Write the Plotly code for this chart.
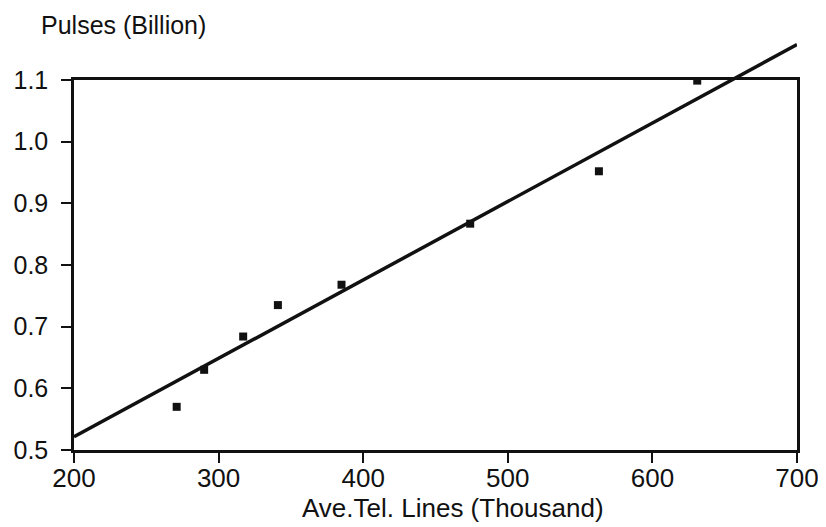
import plotly.graph_objects as go

# Data
tel_lines = [271, 290, 317, 341, 385, 474, 563, 631]          # thousand
pulses = [0.570, 0.630, 0.684, 0.735, 0.768, 0.867, 0.952, 1.099]  # billion

# Fitted regression line
fit_intercept = 0.267
fit_slope = 0.001272
fit_x = [200, 700]
fit_y = [fit_intercept + fit_slope * v for v in fit_x]

x_ticks = [200, 300, 400, 500, 600, 700]
y_ticks = [0.5, 0.6, 0.7, 0.8, 0.9, 1.0, 1.1]
y_tick_labels = ["0.5", "0.6", "0.7", "0.8", "0.9", "1.0", "1.1"]

FONT = "Liberation Sans, Arial, sans-serif"
INK = "#111111"

OFF = 8  # page body margin offset
W, H = 826, 527
ML, MR, MT, MB = 74 - OFF, 29 + OFF, 40 - OFF, 77 + OFF
plot_w = W - ML - MR
plot_h = H - MT - MB            # 410
main_h = 450 - 80               # 370 px between 0.5 and 1.1
main_top = main_h / plot_h
y2_top = 0.5 + 0.6 * plot_h / main_h


def px_x(px):
    return (px - OFF - ML) / plot_w


def px_y(py):
    return (H - MB - (py - OFF)) / plot_h


fig = go.Figure()

fig.add_trace(go.Scatter(
    x=fit_x, y=fit_y, mode="lines", xaxis="x", yaxis="y2",
    line=dict(color=INK, width=3.5), hoverinfo="skip", showlegend=False))

fig.add_trace(go.Scatter(
    x=tel_lines, y=pulses, mode="markers", xaxis="x", yaxis="y",
    marker=dict(symbol="square", size=8, color=INK), showlegend=False))

fig.update_layout(
    template="none",
    width=W, height=H,
    margin=dict(l=ML, r=MR, t=MT, b=MB),
    paper_bgcolor="white", plot_bgcolor="rgba(0,0,0,0)",
    font=dict(family=FONT, color=INK),
    xaxis=dict(range=[200, 700], tickvals=x_ticks, showgrid=False, zeroline=False,
               showline=True, linecolor=INK, linewidth=2.5, mirror=True,
               ticks="outside", ticklen=10, tickwidth=2, tickcolor=INK,
               automargin=False, ticklabelstandoff=-7,
               tickfont=dict(size=26, family=FONT, color=INK), anchor="y"),
    yaxis=dict(range=[0.5, 1.1], domain=[0, main_top], tickvals=y_ticks,
               ticktext=y_tick_labels, showgrid=False, zeroline=False,
               showline=True, linecolor=INK, linewidth=2.5, mirror=True,
               ticks="outside", ticklen=10, tickwidth=2, tickcolor=INK,
               automargin=False, ticklabelstandoff=8,
               tickfont=dict(size=25, family=FONT, color=INK)),
    yaxis2=dict(range=[0.5, y2_top], domain=[0, 1], visible=False, anchor="x",
                automargin=False),
    annotations=[
        dict(text="Pulses (Billion)", xref="paper", yref="paper",
             x=px_x(39), y=px_y(9),
             xanchor="left", yanchor="top", showarrow=False,
             font=dict(size=25, family=FONT, color=INK)),
        dict(text="Ave.Tel. Lines (Thousand)", xref="paper", yref="paper",
             x=px_x(453), y=px_y(508),
             xanchor="center", yanchor="middle", showarrow=False,
             font=dict(size=26, family=FONT, color=INK)),
    ],
)

fig.write_html("out.html")
